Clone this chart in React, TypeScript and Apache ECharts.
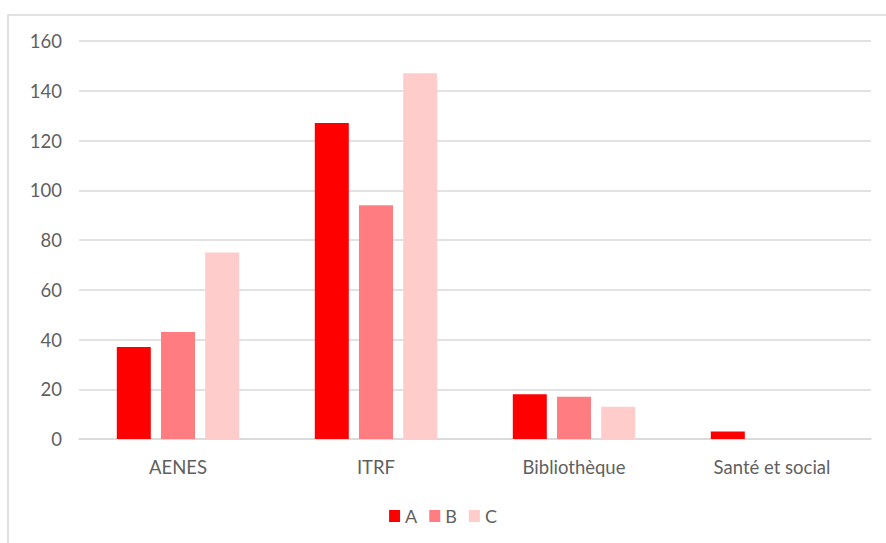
import React, { useEffect, useRef } from "react";
import * as echarts from "echarts";

const categories = ["AENES", "ITRF", "Bibliothèque", "Santé et social"];
const seriesNames = ["A", "B", "C"];
const valuesA = [37, 127, 18, 3];
const valuesB = [43, 94, 17, 0];
const valuesC = [75, 147, 13, 0];
const colors = ["#FF0000", "#FF7C80", "#FFCCCC"];
const yTicks = { min: 0, max: 160, interval: 20 };

export default function App() {
  const ref = useRef<HTMLDivElement>(null);
  useEffect(() => {
    const chart = echarts.init(ref.current!, null, { renderer: "svg" });
    const font = "Lato, 'Open Sans', sans-serif";
    const data = [valuesA, valuesB, valuesC];
    chart.setOption({
      animation: false,
      backgroundColor: "#ffffff",
      textStyle: { fontFamily: font },
      graphic: [
        {
          type: "rect",
          shape: { x: 8, y: 15, width: 900, height: 600 },
          style: { fill: "none", stroke: "#D9D9D9", lineWidth: 1.5 },
          silent: true,
          z: -1,
        },
      ],
      grid: { left: 79, right: 15, top: 41, bottom: 104, containLabel: false },
      legend: {
        top: 502,
        left: "center",
        itemWidth: 11,
        itemHeight: 12,
        itemGap: 12,
        icon: "rect",
        textStyle: { color: "#5f5f5f", fontSize: 18, fontFamily: font },
        data: seriesNames,
      },
      xAxis: {
        type: "category",
        data: categories,
        axisLine: { lineStyle: { color: "#D9D9D9", width: 1.5 } },
        axisTick: { show: false },
        axisLabel: { color: "#5f5f5f", fontSize: 18.5, margin: 18, fontFamily: font },
      },
      yAxis: {
        type: "value",
        min: yTicks.min,
        max: yTicks.max,
        interval: yTicks.interval,
        axisLine: { show: false },
        axisTick: { show: false },
        axisLabel: { color: "#5f5f5f", fontSize: 18.5, margin: 17, fontFamily: font },
        splitLine: { lineStyle: { color: "#D9D9D9", width: 1.5 } },
      },
      series: seriesNames.map((name, i) => ({
        name,
        type: "bar",
        data: data[i],
        barWidth: 34,
        barGap: "30%",
        itemStyle: { color: colors[i] },
      })),
    });
    return () => chart.dispose();
  }, []);
  return (
    <div
      ref={ref}
      style={{ position: "absolute", left: 0, top: 0, width: 886, height: 543 }}
    />
  );
}
